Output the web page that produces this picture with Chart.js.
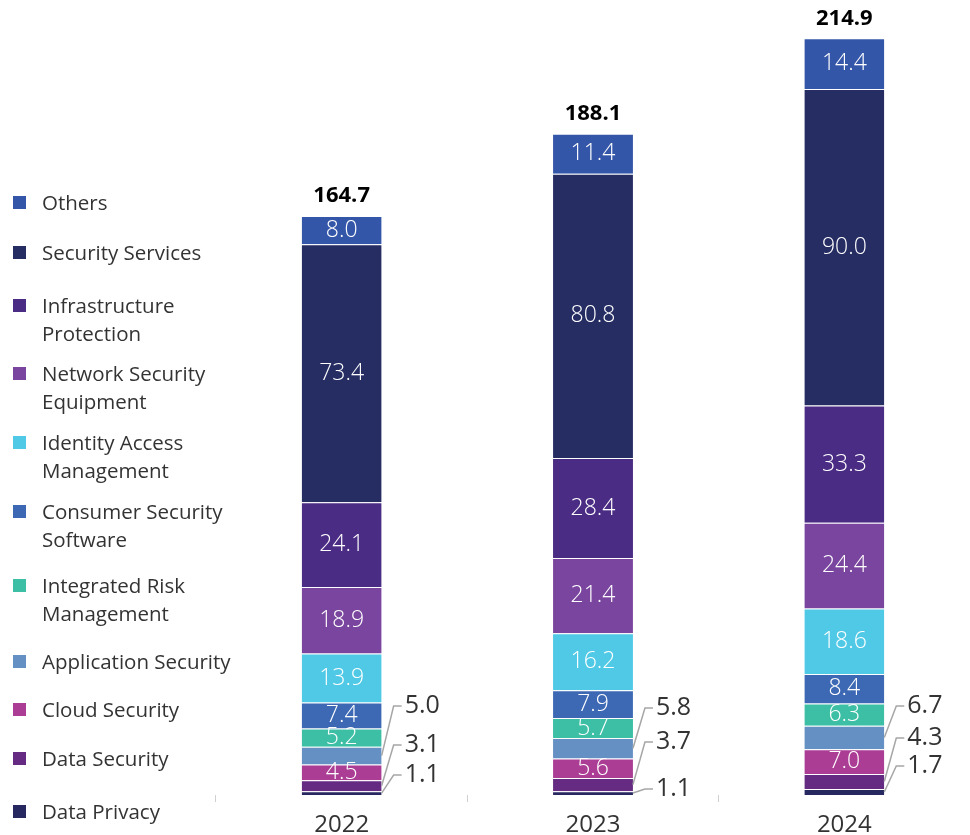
<!DOCTYPE html>
<html lang="en">
<head>
    <meta charset="UTF-8">
    <title>Security market by segment</title>
    <script src="https://cdn.jsdelivr.net/npm/chart.js"></script>
    <style>
        body {
            margin: 0;
            background: #fff;
            font-family: 'Open Sans', Arial, sans-serif;
            color: #333;
        }
        #wrap {
            position: relative;
            width: 970px;
            height: 835px;
        }
        #legend {
            position: absolute;
            left: 0;
            top: 0;
        }
        .item {
            position: absolute;
            left: 13px;
            font-size: 20.5px;
            line-height: 28px;
            color: #333;
            white-space: nowrap;
        }
        .item span.box {
            position: absolute;
            left: 0;
            top: 8px;
            width: 13px;
            height: 13px;
        }
        .item span.txt {
            position: absolute;
            left: 29px;
            top: 0;
        }
    </style>
</head>
<body>
<div id="wrap">
    <canvas id="chart" width="970" height="835"></canvas>
    <div id="legend"></div>
</div>
<script>
    const years = ['2022', '2023', '2024'];
    const totals = [164.7, 188.1, 214.9];

    // bottom to top
    const dataPrivacy = [1.1, 1.1, 1.7];
    const dataSecurity = [3.1, 3.7, 4.3];
    const cloudSecurity = [4.5, 5.6, 7.0];
    const applicationSecurity = [5.0, 5.8, 6.7];
    const integratedRisk = [5.2, 5.7, 6.3];
    const consumerSoftware = [7.4, 7.9, 8.4];
    const identityAccess = [13.9, 16.2, 18.6];
    const networkEquipment = [18.9, 21.4, 24.4];
    const infraProtection = [24.1, 28.4, 33.3];
    const securityServices = [73.4, 80.8, 90.0];
    const others = [8.0, 11.4, 14.4];

    const series = [
        { label: 'Data Privacy', data: dataPrivacy, color: '#27285F', callout: true },
        { label: 'Data Security', data: dataSecurity, color: '#652B82', callout: true },
        { label: 'Cloud Security', data: cloudSecurity, color: '#AB3D94' },
        { label: 'Application Security', data: applicationSecurity, color: '#6490C4', callout: true },
        { label: 'Integrated Risk\nManagement', data: integratedRisk, color: '#3DBFA6' },
        { label: 'Consumer Security\nSoftware', data: consumerSoftware, color: '#3D69B4' },
        { label: 'Identity Access\nManagement', data: identityAccess, color: '#4FC9E6' },
        { label: 'Network Security\nEquipment', data: networkEquipment, color: '#7A459E' },
        { label: 'Infrastructure\nProtection', data: infraProtection, color: '#4B2C84' },
        { label: 'Security Services', data: securityServices, color: '#262D63' },
        { label: 'Others', data: others, color: '#3456A9' }
    ];

    // legend layout (top of each entry), top to bottom
    const legendTop = [188, 238, 291, 359, 428, 497, 571, 647, 695, 744, 797];
    const legendEl = document.getElementById('legend');
    series.slice().reverse().forEach((s, i) => {
        const d = document.createElement('div');
        d.className = 'item';
        d.style.top = legendTop[i] + 'px';
        d.innerHTML = '<span class="box" style="background:' + s.color + '"></span>' +
            '<span class="txt">' + s.label.replace('\n', '<br>') + '</span>';
        legendEl.appendChild(d);
    });

    // callout label heights above the baseline, per bar (lowest first)
    const calloutRise = [[20, 50, 89], [6, 53, 87], [29, 57, 89]];

    const labelPlugin = {
        id: 'segLabels',
        afterDatasetsDraw(chart) {
            const ctx = chart.ctx;
            const base = chart.scales.y.getPixelForValue(0);
            ctx.save();
            years.forEach((_, j) => {
                let k = 0;
                chart.data.datasets.forEach((ds, i) => {
                    const bar = chart.getDatasetMeta(i).data[j];
                    const v = ds.data[j].toFixed(1);
                    if (series[i].callout) {
                        const right = bar.x + bar.width / 2;
                        const segY = (bar.y + bar.base) / 2;
                        const ly = base - calloutRise[j][k];
                        k++;
                        ctx.strokeStyle = '#a6a6a6';
                        ctx.lineWidth = 1.5;
                        ctx.beginPath();
                        ctx.moveTo(right, segY);
                        ctx.lineTo(right + 12, ly);
                        ctx.lineTo(right + 20, ly);
                        ctx.stroke();
                        ctx.fillStyle = '#333';
                        ctx.font = '25px "Open Sans"';
                        ctx.textAlign = 'left';
                        ctx.textBaseline = 'middle';
                        ctx.fillText(v, right + 23, ly);
                    } else {
                        ctx.fillStyle = '#fff';
                        ctx.font = '300 23px "Open Sans"';
                        ctx.textAlign = 'center';
                        ctx.textBaseline = 'middle';
                        ctx.fillText(v, bar.x, (bar.y + bar.base) / 2);
                    }
                });
                const topBar = chart.getDatasetMeta(series.length - 1).data[j];
                ctx.fillStyle = '#000';
                ctx.font = 'bold 22px "Open Sans"';
                ctx.textAlign = 'center';
                ctx.textBaseline = 'middle';
                ctx.fillText(totals[j].toFixed(1), topBar.x, topBar.y - 20);
            });
            ctx.restore();
        }
    };

    new Chart(document.getElementById('chart'), {
        type: 'bar',
        data: {
            labels: years,
            datasets: series.map(s => ({
                label: s.label,
                data: s.data,
                backgroundColor: s.color,
                borderColor: 'rgba(255,255,255,0.25)',
                borderWidth: { top: 1 },
                borderSkipped: false,
                barPercentage: 0.318,
                categoryPercentage: 1
            }))
        },
        options: {
            responsive: false,
            animation: false,
            layout: { padding: { left: 216, right: 0, top: 0, bottom: 0 } },
            plugins: {
                legend: { display: false },
                tooltip: { enabled: false }
            },
            scales: {
                x: {
                    stacked: true,
                    offset: true,
                    border: { display: false },
                    grid: { drawOnChartArea: false, drawTicks: true, tickLength: 7, color: '#d0d0d0', offset: true },
                    ticks: { color: '#333', font: { family: 'Open Sans', size: 24, lineHeight: 1 }, padding: 11 },
                    afterFit(scale) { scale.height = 40; }
                },
                y: {
                    stacked: true,
                    display: false,
                    min: 0,
                    max: 226
                }
            }
        },
        plugins: [labelPlugin]
    });
</script>
</body>
</html>
